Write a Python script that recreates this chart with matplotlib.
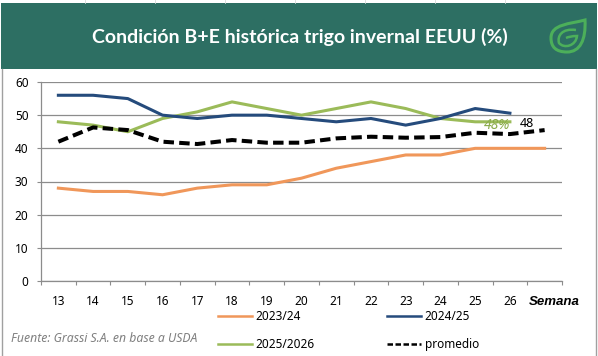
"""
Condicion B+E del trigo invernal de EEUU, por semana.
"""
import numpy as np
import matplotlib
matplotlib.use("Agg")
import matplotlib.pyplot as plt
from matplotlib.patches import Rectangle, PathPatch
from matplotlib.path import Path

W = 598
H = 356

TITLE = "Condición B+E histórica trigo invernal EEUU (%)"
SOURCE = "Fuente: Grassi S.A. en base a USDA"
WEEKS = ["13", "14", "15", "16", "17", "18", "19", "20", "21", "22", "23", "24", "25", "26", "Semana"]
YTICKS = [0, 10, 20, 30, 40, 50, 60]

S_2324 = [28, 27, 27, 26, 28, 29, 29, 31, 34, 36, 38, 38, 40, 40, 40]
S_2425 = [56, 56, 55, 50, 49, 50, 50, 49, 48, 49, 47, 49, 52, 50.6]
S_2526 = [48, 47, 45, 49, 51, 54, 52, 50, 52, 54, 52, 49, 48, 48]
PROMEDIO = [42, 46.3, 45.5, 42, 41.3, 42.5, 41.7, 41.7, 43, 43.5, 43.2, 43.4, 44.7, 44.3, 45.5]

ORANGE = "#f0975a"
NAVY = "#254b7c"
GREEN = "#9bbb59"
BANNER = "#2d6f63"
LOGO = "#4caf5a"
GRID = "#8c8c8c"

plt.rcParams["font.family"] = ["Noto Sans", "DejaVu Sans"]

fig = plt.figure(figsize=(W / 100, H / 100), dpi=100, facecolor="white")

# background layer in pixel coords: banner, frame, logo
bg = fig.add_axes([0, 0, 1, 1], zorder=0)
bg.set_xlim(0, W)
bg.set_ylim(H, 0)
bg.axis("off")
bg.add_patch(Rectangle((1, 3), 596, 66, fc=BANNER, ec="none"))
bg.plot([1.5, 1.5], [69, 356], color="#a0a0a0", lw=1)
bg.plot([595.5, 595.5], [69, 356], color="#a0a0a0", lw=1)
for x in [85, 155, 225, 295, 365, 435, 505]:
    bg.plot([x, x], [0, 3], color="#d8d8d8", lw=0.6)

leaf = Path([(551, 38), (551, 24), (570, 24), (585, 20), (586, 40), (580, 52), (567, 52), (556, 52), (551, 47), (551, 38)],
            [Path.MOVETO, Path.CURVE4, Path.CURVE4, Path.CURVE4, Path.CURVE4, Path.CURVE4, Path.CURVE4, Path.CURVE4, Path.CURVE4, Path.CURVE4])
bg.add_patch(PathPatch(leaf, fc="none", ec=LOGO, lw=2.2))
swirl = Path([(576, 30), (562, 28), (557, 36), (559, 43), (564, 49), (576, 46), (577, 36), (572, 36), (568, 37), (566, 38)],
             [Path.MOVETO, Path.CURVE4, Path.CURVE4, Path.CURVE4, Path.CURVE4, Path.CURVE4, Path.CURVE4, Path.CURVE4, Path.CURVE4, Path.CURVE4])
bg.add_patch(PathPatch(swirl, fc="none", ec=LOGO, lw=1.8))

bg.text(300, 37, TITLE, color="white", fontsize=14, fontweight="bold", ha="center", va="center", family="Lato")
bg.text(11, 338, SOURCE, color="#808080", fontsize=8.8, style="italic", ha="left", va="center")

# chart
left, right, top, bottom = 41, 562, 82, 281
ax = fig.add_axes([left / W, 1 - bottom / H, (right - left) / W, (bottom - top) / H], zorder=1)
ax.patch.set_alpha(0)

x = np.arange(len(WEEKS))
ax.plot(x[:len(S_2324)], S_2324, color=ORANGE, lw=2.2, label="2023/24")
ax.plot(x[:len(S_2526)], S_2526, color=GREEN, lw=2.2, label="2025/2026")
ax.plot(x[:len(S_2425)], S_2425, color=NAVY, lw=2.2, label="2024/25")
ax.plot(x[:len(PROMEDIO)], PROMEDIO, color="black", lw=2.9, ls=(0, (2.6, 1.3)), label="promedio")

ax.text(12.63, 47.0, "48%", color="#8aab4a", fontsize=10, style="italic", ha="center", va="center")
ax.text(13.49, 47.6, "48", color="black", fontsize=9, ha="center", va="center")

ax.set_xlim(-0.5, len(WEEKS) - 0.5)
ax.set_ylim(0, 60)
ax.set_yticks(YTICKS)
ax.set_xticks(np.arange(len(WEEKS) + 1) - 0.5)
ax.set_xticklabels([])
ax.tick_params(axis="x", direction="out", length=3, width=0.8, color=GRID)
ax.tick_params(axis="y", direction="out", length=3, width=0.8, color=GRID, labelsize=8.5, pad=6)
ax.grid(axis="y", color=GRID, lw=0.9)
ax.set_axisbelow(True)
for side in ["top", "right"]:
    ax.spines[side].set_visible(False)
for side in ["left", "bottom"]:
    ax.spines[side].set_color(GRID)
    ax.spines[side].set_linewidth(0.9)

for i, week in enumerate(WEEKS):
    if week == "Semana":
        ax.annotate(week, (i, 0), xytext=(7, -15), textcoords="offset points", ha="center", va="center",
                    fontsize=9.5, fontweight="bold", style="italic", family="Liberation Sans", annotation_clip=False)
    else:
        ax.annotate(week, (i, 0), xytext=(0, -15), textcoords="offset points", ha="center", va="center",
                    fontsize=8.5, annotation_clip=False)

legend = ax.legend(ncol=2, loc="upper left", bbox_to_anchor=(218 / W, 1 - 310 / H), bbox_transform=fig.transFigure,
                   frameon=False, fontsize=8.5, handlelength=2.9, handletextpad=0.3, columnspacing=6.1,
                   labelspacing=1.25, borderpad=0, borderaxespad=0)
for handle in legend.get_lines():
    handle.set_linewidth(1.8)
legend.get_lines()[-1].set_linestyle((0, (2.2, 1)))

fig.savefig("out.png", dpi=100)
